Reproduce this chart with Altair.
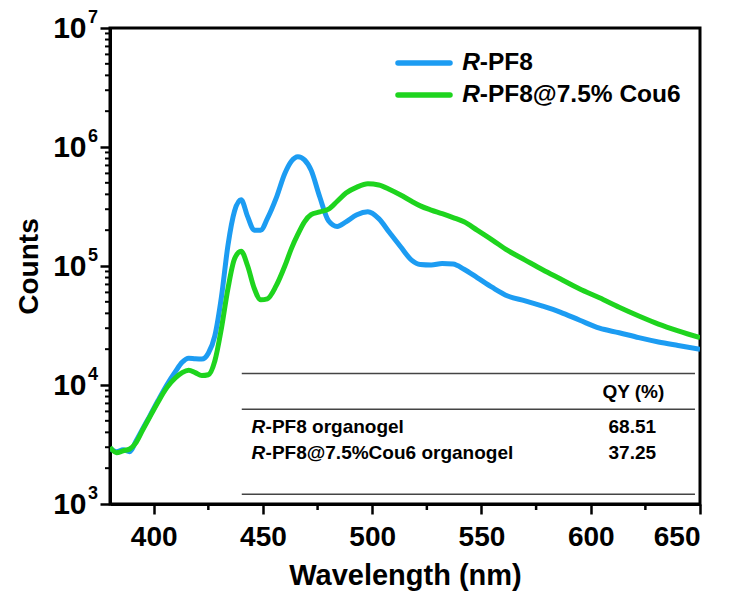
import altair as alt
import pandas as pd

# ---- data ----
wavelength = [380, 383, 386, 389, 392, 395, 398, 402, 406, 410, 413, 416, 419, 422, 425,
              428, 431, 434, 437, 440, 443, 446, 449, 452, 456, 460, 463, 466, 469, 472,
              476, 480, 484, 488, 493, 498, 503, 508, 513, 518, 522, 527, 532, 537, 542,
              548, 555, 562, 570, 578, 586, 595, 604, 613, 622, 631, 640, 650]
pf8_counts = [2950, 2750, 2850, 2750, 3400, 4300, 5400, 7400, 10000, 13000, 15500, 16800,
              16600, 16500, 18500, 26000, 55000, 150000, 290000, 360000, 260000, 200000,
              200000, 250000, 370000, 600000, 760000, 830000, 780000, 640000, 380000, 240000,
              215000, 235000, 270000, 285000, 250000, 190000, 145000, 112000, 103000, 102000,
              105000, 104000, 94000, 80000, 66000, 56000, 51000, 46000, 41000, 35000, 30000,
              27500, 25000, 23000, 21500, 20000]
cou6_counts = [3000, 2700, 2800, 2900, 3300, 4200, 5300, 7200, 9500, 11500, 12700, 13300,
               12700, 12000, 12200, 16000, 30000, 65000, 115000, 133000, 100000, 65000,
               52000, 53000, 68000, 100000, 140000, 185000, 235000, 270000, 285000, 300000,
               350000, 410000, 460000, 490000, 480000, 440000, 395000, 350000, 320000, 295000,
               275000, 255000, 235000, 200000, 165000, 135000, 112000, 93000, 78000, 64000,
               54000, 45000, 38000, 32500, 28500, 25000]
series_names = ["R-PF8", "R-PF8@7.5% Cou6"]
series_rest = ["-PF8", "-PF8@7.5% Cou6"]
series_colors = ["#1C9CF2", "#1ED41E"]
x_ticks = [400, 450, 500, 550, 600, 650]
x_minor = [425, 475, 525, 575, 625]
y_decades = [3, 4, 5, 6, 7]
y_minor = [m * 10 ** d for d in range(3, 7) for m in range(2, 10)]
table_header = "QY (%)"
table_rows = ["-PF8 organogel", "-PF8@7.5%Cou6 organogel"]
table_qy = ["68.51", "37.25"]

FONT = "Liberation Sans"

rows = []
for name, vals in zip(series_names, [pf8_counts, cou6_counts]):
    for w, c in zip(wavelength, vals):
        rows.append({"wl": w, "counts": c, "series": name})
df = pd.DataFrame(rows)

xscale = alt.Scale(domain=[380, 650], nice=False, zero=False)
yscale = alt.Scale(type="log", domain=[1000, 10000000], nice=False)
cscale = alt.Scale(domain=series_names, range=series_colors)
xaxis = alt.Axis(title="Wavelength (nm)", values=x_ticks, format="d",
                 tickSize=10, labelPadding=9, titlePadding=10)
yaxis = alt.Axis(title="Counts", values=[10 ** d for d in y_decades],
                 labelExpr="'10'", tickSize=10, labelPadding=14, titlePadding=9)


def X(field):
    return alt.X(field, type="quantitative", scale=xscale, axis=xaxis)


def Y(field):
    return alt.Y(field, type="quantitative", scale=yscale, axis=yaxis)


lines = alt.Chart(df).mark_line(strokeWidth=5, interpolate="monotone", clip=True).encode(
    x=X("wl"), y=Y("counts"),
    color=alt.Color("series:N", scale=cscale, legend=None),
)

# minor ticks
xminor = alt.Chart(pd.DataFrame({"wl": x_minor})).mark_rule(color="black", strokeWidth=2.5).encode(
    x=X("wl"), y=alt.value(476), y2=alt.value(482),
)
yminor = alt.Chart(pd.DataFrame({"counts": y_minor})).mark_rule(color="black", strokeWidth=2).encode(
    y=Y("counts"), x=alt.value(0), x2=alt.value(-5),
)

# exponents of the y tick labels
exps = alt.Chart(pd.DataFrame({"counts": [10 ** d for d in y_decades],
                               "exp": [str(d) for d in y_decades]})).mark_text(
    font=FONT, fontSize=18, fontWeight="bold", align="left", baseline="middle",
    dy=-10, color="black").encode(
    y=Y("counts"), x=alt.value(-22), text="exp:N",
)

# legend
leg = pd.DataFrame({"series": series_names, "rest": series_rest,
                    "wl": [511.8, 511.8], "wl2": [535.6, 535.6], "tx": [541.2, 541.2],
                    "counts": [5.08e6, 2.73e6]})
leg_lines = alt.Chart(leg).mark_rule(strokeWidth=5.5, strokeCap="round").encode(
    x=X("wl"), x2="wl2:Q", y=Y("counts"),
    color=alt.Color("series:N", scale=cscale, legend=None),
)
leg_r = alt.Chart(leg).mark_text(font=FONT, fontSize=24.5, fontWeight="bold", fontStyle="italic",
                                 align="left", baseline="middle", color="black").encode(
    x=X("tx"), y=Y("counts"), text=alt.value("R"),
)
leg_t = alt.Chart(leg).mark_text(font=FONT, fontSize=24.5, fontWeight="bold",
                                 align="left", baseline="middle", dx=17.5, color="black").encode(
    x=X("tx"), y=Y("counts"), text="rest:N",
)

# inset table
tab_rules = alt.Chart(pd.DataFrame({"counts": [12500, 6250, 1210],
                                    "wl": [440.3] * 3, "wl2": [647.7] * 3})).mark_rule(
    color="#444444", strokeWidth=1.5).encode(
    x=X("wl"), x2="wl2:Q", y=Y("counts"),
)
tab_df = pd.DataFrame({"rest": table_rows, "qy": table_qy, "counts": [4470, 2670],
                       "tx": [444.8, 444.8], "qx": [619.0, 619.0]})
tab_r = alt.Chart(tab_df).mark_text(font=FONT, fontSize=19, fontWeight="bold", fontStyle="italic",
                                    align="left", baseline="middle", color="black").encode(
    x=X("tx"), y=Y("counts"), text=alt.value("R"),
)
tab_t = alt.Chart(tab_df).mark_text(font=FONT, fontSize=19, fontWeight="bold",
                                    align="left", baseline="middle", dx=14, color="black").encode(
    x=X("tx"), y=Y("counts"), text="rest:N",
)
tab_q = alt.Chart(tab_df).mark_text(font=FONT, fontSize=19, fontWeight="bold",
                                    align="center", baseline="middle", color="black").encode(
    x=X("qx"), y=Y("counts"), text="qy:N",
)
tab_h = alt.Chart(pd.DataFrame({"h": [table_header], "counts": [8800], "qx": [619.5]})).mark_text(
    font=FONT, fontSize=19, fontWeight="bold", align="center", baseline="middle",
    color="black").encode(
    x=X("qx"), y=Y("counts"), text="h:N",
)

chart = alt.layer(lines, xminor, yminor, exps, leg_lines, leg_r, leg_t,
                  tab_rules, tab_r, tab_t, tab_q, tab_h).properties(
    width=590, height=476,
    autosize=alt.AutoSizeParams(type="none"),
    padding={"left": 110, "top": 28, "right": 31, "bottom": 97},
    background="white",
).configure_view(stroke="black", strokeWidth=3).configure_axis(
    domainColor="black", domainWidth=3, tickColor="black", tickWidth=2.5,
    labelFont=FONT, labelFontWeight="bold", labelColor="black",
    titleFont=FONT, titleFontWeight="bold", titleColor="black", grid=False,
).configure_axisX(labelFontSize=28, titleFontSize=29).configure_axisY(
    labelFontSize=30, titleFontSize=28)

chart.save("out.html", embed_options={"renderer": "svg", "actions": False})
